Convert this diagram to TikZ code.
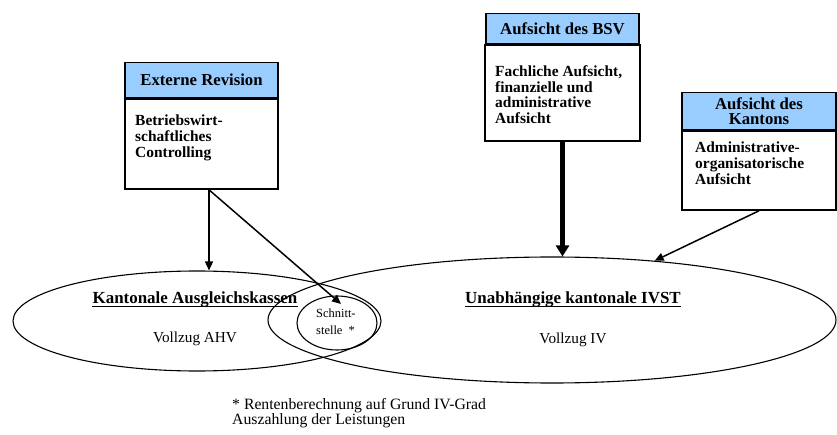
\documentclass[tikz,border=0pt]{standalone}
\usepackage{fontspec}
\setmainfont{Liberation Serif}
\usetikzlibrary{arrows.meta,shapes.geometric,calc}
\definecolor{hdrblue}{RGB}{153,204,255}
\begin{document}
\begin{tikzpicture}[x=1bp,y=-1bp,
  hdr/.style={draw=black,line width=1.4bp,fill=hdrblue,minimum width=153bp,inner sep=0pt,font=\fontsize{16.8}{15.5}\selectfont\bfseries,align=center,anchor=north},
  bodybox/.style={draw=black,line width=1.4bp,fill=white,minimum width=153bp,inner sep=0pt,anchor=north},
  bodytxt/.style={anchor=north west,inner sep=0pt,align=left,font=\fontsize{15.5}{16}\selectfont\bfseries},
  oval/.style={draw=black,line width=1.1bp,ellipse,inner sep=0pt},
  arr/.style={-{Triangle[length=9bp,width=8bp]},line width=1.5bp},
  bigarr/.style={-{Triangle[length=11bp,width=13bp]},line width=4.2bp},
  ovtitle/.style={anchor=base,inner sep=0pt,font=\fontsize{17}{20}\selectfont\bfseries},
  ovsub/.style={anchor=base,inner sep=0pt,font=\fontsize{15.3}{18}\selectfont},
  uline/.style={line width=1bp},
  smalltxt/.style={anchor=north west,inner sep=0pt,align=left,font=\fontsize{12.5}{16.5}\selectfont},
  foot/.style={anchor=base west,inner sep=0pt,align=left,font=\fontsize{15.8}{15}\selectfont},
]
\useasboundingbox (0,0) rectangle (837,435);

% ellipses
\node[oval,minimum width=368bp,minimum height=100bp] (kak) at (197,321) {};
\node[oval,minimum width=568bp,minimum height=126bp] (ivst) at (552,320) {};
\node[oval,minimum width=80bp,minimum height=54bp] (snt) at (337,323) {};

\node[ovtitle] (kakT) at (195,304) {Kantonale Ausgleichskassen};
\draw[uline] ($(kakT.base west)+(0,3)$) -- ($(kakT.base east)+(0,3)$);
\node[ovsub] (kakS) at (195,343) {Vollzug AHV};
\node[ovtitle] (ivstT) at (573,304) {Unabhängige kantonale IVST};
\draw[uline] ($(ivstT.base west)+(0,3)$) -- ($(ivstT.base east)+(0,3)$);
\node[ovsub] (ivstS) at (573,344) {Vollzug IV};
\node[smalltxt] (sntT) at (316,309) {Schnitt-\\stelle\ \ *};

% box 1: Externe Revision
\node[hdr,minimum height=35bp] (revh) at (201.5,62) {Externe Revision};
\node[bodybox,minimum height=90bp] (revb) at (revh.south) {};
\node[bodytxt] (revt) at (135,115) {Betriebswirt-\\schaftliches\\Controlling};

% box 2: Aufsicht des BSV
\node[hdr,minimum height=30bp] (bsvh) at (562.5,13) {Aufsicht des BSV};
\node[bodybox,minimum width=155bp,minimum height=96bp] (bsvb) at (bsvh.south) {};
\node[bodytxt] (bsvt) at (495,65) {Fachliche Aufsicht,\\finanzielle und\\administrative\\Aufsicht};

% box 3: Aufsicht des Kantons
\node[hdr,minimum width=154bp,minimum height=37bp] (kanh) at (759,92) {Aufsicht des\\Kantons};
\node[bodybox,minimum width=154bp,minimum height=79bp] (kanb) at (kanh.south) {};
\node[bodytxt] (kant) at (695,142) {Administrative-\\organisatorische\\Aufsicht};

% connectors
\coordinate (revOut) at ($(revb.south)+(7.5,0)$);
\coordinate (sntTip) at (341,304);
\draw[arr] (revOut) -- (revOut |- kak.north);
\draw[arr] (revOut) -- (sntTip);
\draw[bigarr] (bsvb.south) -- (bsvb.south |- ivst.north);
\draw[arr] (kanb.south) -- (ivst.30);

% footnote
\node[foot] (fn) at (232,424) {* Rentenberechnung auf Grund IV-Grad\\Auszahlung der Leistungen};
\end{tikzpicture}
\end{document}
